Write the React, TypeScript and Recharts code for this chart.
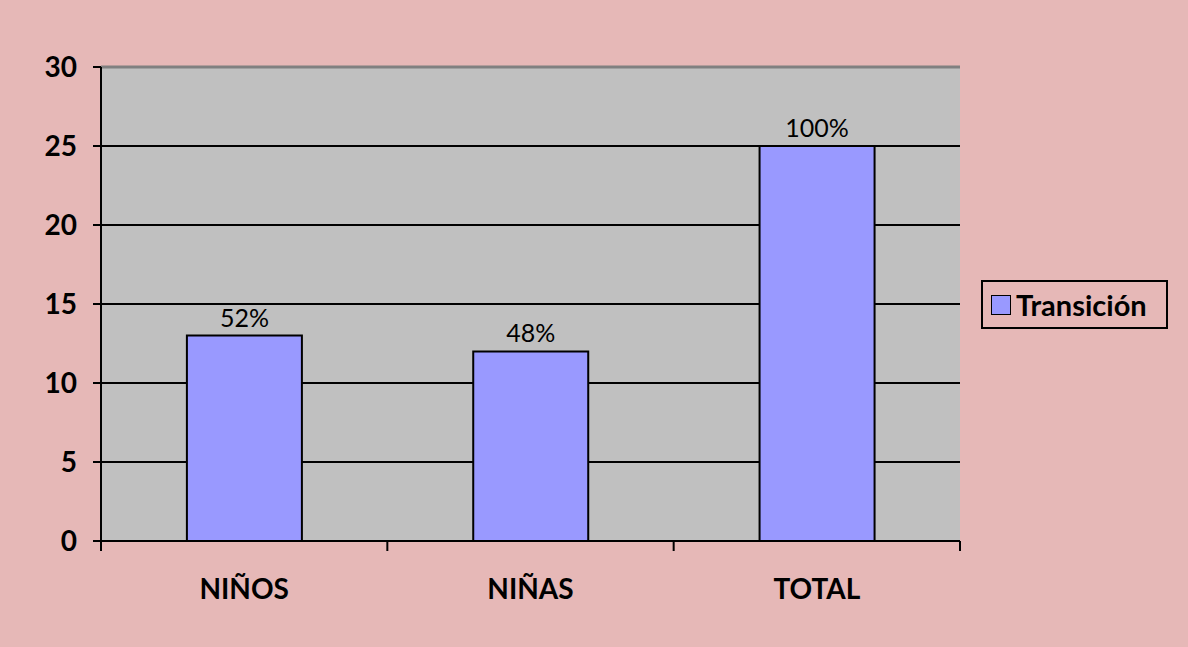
import React from 'react';
import {
  BarChart,
  Bar,
  XAxis,
  YAxis,
  CartesianGrid,
  LabelList,
  ReferenceLine,
} from 'recharts';

const categories = ['NIÑOS', 'NIÑAS', 'TOTAL'];
const transicion = [13, 12, 25];
const percentLabels = ['52%', '48%', '100%'];
const yTicks = [0, 5, 10, 15, 20, 25, 30];

const data = categories.map((name, i) => ({
  name,
  transicion: transicion[i],
  pct: percentLabels[i],
}));

const W = 1188;
const H = 647;
const MARGIN = { top: 67, right: 228, bottom: 0, left: 0 };
const Y_AXIS_W = 101;
const X_AXIS_H = 106;
const PLOT_W = W - MARGIN.right - Y_AXIS_W;
const BAND = PLOT_W / categories.length;
const FONT = 'Lato, "Liberation Sans", sans-serif';

// x ticks sit on the category boundaries, not the centres
const CategoryTick = (props: any) => {
  const { x, y, payload, index } = props;
  const left = x - BAND / 2;
  const top = y - 8; // axis line
  return (
    <g>
      <line x1={left} y1={top} x2={left} y2={top + 10} stroke="#000" strokeWidth={2} />
      {index === categories.length - 1 && (
        <line x1={left + BAND} y1={top} x2={left + BAND} y2={top + 10} stroke="#000" strokeWidth={2} />
      )}
      <text
        x={x}
        y={top + 58}
        textAnchor="middle"
        fontFamily={FONT}
        fontWeight="bold"
        fontSize={28}
        fill="#000"
      >
        {payload.value}
      </text>
    </g>
  );
};

export default function App() {
  return (
    <div style={{ position: 'absolute', left: 0, top: 0, width: W, height: H, background: '#E6B8B7' }}>
      <BarChart width={W} height={H} data={data} margin={MARGIN} barCategoryGap="30%">
        <CartesianGrid fill="#C0C0C0" stroke="#000" strokeWidth={2} vertical={false} />
        <XAxis
          dataKey="name"
          height={X_AXIS_H}
          axisLine={{ stroke: '#000', strokeWidth: 2 }}
          tickLine={false}
          tick={<CategoryTick />}
          interval={0}
        />
        <YAxis
          width={Y_AXIS_W}
          domain={[0, 30]}
          ticks={yTicks}
          interval={0}
          axisLine={{ stroke: '#000', strokeWidth: 2 }}
          tickLine={{ stroke: '#000', strokeWidth: 2 }}
          tickSize={8}
          tickMargin={16}
          tick={{ fill: '#000', fontSize: 28, fontWeight: 'bold', fontFamily: FONT }}
        />
        <YAxis
          yAxisId="frame"
          orientation="right"
          width={0}
          domain={[0, 30]}
          tick={false}
          tickLine={false}
          axisLine={{ stroke: '#808080', strokeWidth: 2 }}
        />
        <ReferenceLine y={30} stroke="#808080" strokeWidth={3} />
        <Bar
          dataKey="transicion"
          name="Transición"
          fill="#9999FF"
          stroke="#000"
          strokeWidth={2}
          isAnimationActive={false}
        >
          <LabelList
            dataKey="pct"
            position="top"
            offset={9}
            fill="#000"
            fontSize={25}
            fontFamily={FONT}
          />
        </Bar>
      </BarChart>
      <div
        style={{
          position: 'absolute',
          left: 981,
          top: 280,
          border: '2px solid #000',
          width: 187,
          height: 49,
          boxSizing: 'border-box',
          display: 'flex',
          alignItems: 'center',
          paddingLeft: 8,
          fontFamily: FONT,
          fontWeight: 'bold',
          fontSize: 29,
          color: '#000',
          whiteSpace: 'nowrap',
        }}
      >
        <div
          style={{
            width: 18,
            height: 18,
            background: '#9999FF',
            border: '1.5px solid #000',
            marginRight: 5,
            flexShrink: 0,
          }}
        />
        <span>Transición</span>
      </div>
    </div>
  );
}
